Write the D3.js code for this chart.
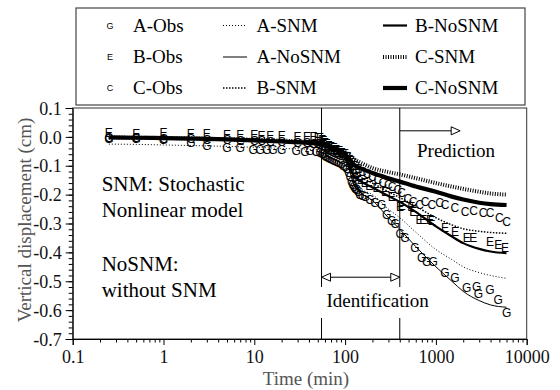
<!DOCTYPE html>
<html><head><meta charset="utf-8">
<script src="https://cdn.jsdelivr.net/npm/d3@7"></script>
<style>
body{margin:0;background:#fff}svg{display:block}
text{font-family:"Liberation Serif","Times New Roman",Times,serif}
text.mk{font-family:"Liberation Sans",Arial,sans-serif}
</style>
</head><body>
<svg id="chart" width="560" height="390"></svg>
<script>
// ---------- data ----------
const xTicks = [0.1, 1, 10, 100, 1000, 10000];
const xTickLabels = ["0.1", "1", "10", "100", "1000", "10000"];
const yTicks = [0.1, 0.0, -0.1, -0.2, -0.3, -0.4, -0.5, -0.6, -0.7];
const yTickLabels = ["0.1", "0.0", "-0.1", "-0.2", "-0.3", "-0.4", "-0.5", "-0.6", "-0.7"];

const modelTimes = [0.25, 0.5, 1, 2, 5, 10, 20, 40, 55, 70, 90, 100, 110, 120, 130, 150, 200, 300, 400, 600, 1000, 1500, 2000, 3000, 4000, 6000];
const aSNM   = [-0.025,-0.026,-0.028,-0.030,-0.033,-0.036,-0.040,-0.043,-0.046,-0.055,-0.070,-0.080,-0.105,-0.140,-0.160,-0.180,-0.200,-0.250,-0.280,-0.330,-0.390,-0.425,-0.450,-0.470,-0.480,-0.490];
const aNoSNM = [-0.004,-0.005,-0.006,-0.008,-0.012,-0.015,-0.019,-0.024,-0.028,-0.045,-0.065,-0.080,-0.110,-0.150,-0.175,-0.195,-0.220,-0.280,-0.320,-0.380,-0.450,-0.500,-0.535,-0.567,-0.582,-0.590];
const bSNM   = [-0.003,-0.004,-0.005,-0.007,-0.010,-0.013,-0.017,-0.021,-0.025,-0.040,-0.055,-0.065,-0.085,-0.110,-0.125,-0.140,-0.160,-0.190,-0.210,-0.240,-0.280,-0.305,-0.318,-0.327,-0.331,-0.334];
const bNoSNM = [-0.002,-0.003,-0.004,-0.006,-0.009,-0.012,-0.016,-0.021,-0.025,-0.040,-0.058,-0.070,-0.095,-0.125,-0.140,-0.155,-0.175,-0.205,-0.225,-0.260,-0.310,-0.345,-0.368,-0.388,-0.397,-0.403];
const cSNM   = [-0.002,-0.003,-0.004,-0.005,-0.008,-0.010,-0.013,-0.018,-0.024,-0.032,-0.045,-0.052,-0.062,-0.072,-0.080,-0.090,-0.108,-0.122,-0.130,-0.143,-0.160,-0.172,-0.180,-0.190,-0.196,-0.200];
const cNoSNM = [-0.002,-0.003,-0.004,-0.006,-0.009,-0.012,-0.016,-0.021,-0.025,-0.035,-0.050,-0.060,-0.075,-0.090,-0.100,-0.110,-0.125,-0.143,-0.155,-0.172,-0.190,-0.207,-0.217,-0.228,-0.233,-0.236];

const obsATimes = [0.25,0.5,1,2,3,5,7,9.7,11.6,13.8,16,20,29,36,41,48,53,56,58,60,62,65,68,72,76,80,85,90,95,100,105,110,114,118,122,126,130,134,140,146,155,166,188,213,253,287,326,355,403,457,589,698,792,936,1259,1622,2183,2813,2931,3945,4864,6026];
const obsAValues = [-0.006,-0.008,-0.010,-0.020,-0.030,-0.040,-0.040,-0.045,-0.047,-0.045,-0.045,-0.047,-0.050,-0.052,-0.050,-0.052,-0.055,-0.058,-0.060,-0.065,-0.070,-0.072,-0.078,-0.080,-0.085,-0.088,-0.090,-0.095,-0.100,-0.105,-0.110,-0.125,-0.140,-0.155,-0.165,-0.172,-0.180,-0.185,-0.190,-0.200,-0.205,-0.207,-0.218,-0.228,-0.236,-0.272,-0.290,-0.300,-0.337,-0.351,-0.386,-0.418,-0.432,-0.432,-0.470,-0.490,-0.525,-0.520,-0.545,-0.530,-0.565,-0.610];
const obsBTimes = [0.25,0.5,1,2,3,5,7,10,12,15,20,30,38,45,50,53,56,58,60,63,66,70,75,80,86,92,100,106,112,118,124,130,140,150,165,185,222,275,326,403,420,535,564,660,727,860,899,1259,1622,2183,2582,3945,4864,5770];
const obsBValues = [0.012,0.010,0.012,0.010,0.010,0.008,0.006,0.005,0.004,0.003,0.002,0.000,0.000,-0.002,-0.003,-0.005,-0.010,-0.015,-0.020,-0.025,-0.030,-0.035,-0.040,-0.045,-0.050,-0.055,-0.060,-0.070,-0.085,-0.100,-0.115,-0.130,-0.140,-0.150,-0.160,-0.170,-0.178,-0.190,-0.207,-0.242,-0.240,-0.242,-0.259,-0.288,-0.288,-0.288,-0.290,-0.317,-0.328,-0.351,-0.351,-0.363,-0.374,-0.386];
const obsCTimes = [0.25,0.5,1,2,3,5,7,10,12,15,20,30,38,45,50,53,56,60,65,70,76,82,90,98,106,114,122,130,140,155,175,200,230,260,300,330,380,420,490,560,660,760,900,1100,1260,1620,2100,2600,3300,3950,5000,6000];
const obsCValues = [-0.004,-0.005,-0.006,-0.008,-0.010,-0.012,-0.014,-0.015,-0.016,-0.017,-0.018,-0.020,-0.022,-0.023,-0.025,-0.027,-0.030,-0.035,-0.040,-0.045,-0.050,-0.055,-0.060,-0.065,-0.070,-0.080,-0.090,-0.100,-0.110,-0.120,-0.130,-0.140,-0.150,-0.160,-0.165,-0.173,-0.185,-0.195,-0.215,-0.225,-0.236,-0.225,-0.236,-0.230,-0.236,-0.247,-0.259,-0.255,-0.262,-0.265,-0.282,-0.294];

const identStart = 55, identEnd = 400, predEnd = 1850;

// ---------- drawing ----------
const svg = d3.select("#chart");
svg.append("rect").attr("width",560).attr("height",390).attr("fill","#fff");

const x = d3.scaleLog().domain([0.1, 10000]).range([72.7, 526.7]);
const y = d3.scaleLinear().domain([-0.7, 0.1]).range([339, 108]);

svg.append("defs").append("clipPath").attr("id","clip")
  .append("rect").attr("x",72.7).attr("y",108).attr("width",454).attr("height",231);

svg.append("rect").attr("x",72.7).attr("y",108).attr("width",454).attr("height",231)
  .attr("fill","none").attr("stroke","#333").attr("stroke-width",1);

[identStart, identEnd].forEach(t => {
  svg.append("line").attr("x1",x(t)).attr("x2",x(t)).attr("y1",y(0.1)).attr("y2",y(-0.7))
    .attr("stroke","#000").attr("stroke-width",1);
});

const series = [
  {name:"A-SNM", v:aSNM, w:1, dash:"1,2"},
  {name:"A-NoSNM", v:aNoSNM, w:1, dash:null},
  {name:"B-SNM", v:bSNM, w:1.5, dash:"1.5,1.5"},
  {name:"B-NoSNM", v:bNoSNM, w:2.2, dash:null},
  {name:"C-SNM", v:cSNM, w:4, dash:"1,1.5"},
  {name:"C-NoSNM", v:cNoSNM, w:4.2, dash:null}
];
const line = d3.line().x(d => x(d[0])).y(d => y(d[1])).curve(d3.curveMonotoneX);
const gLines = svg.append("g").attr("clip-path","url(#clip)");
series.forEach(s => {
  gLines.append("path").datum(modelTimes.map((t,i) => [t, s.v[i]]))
    .attr("d", line).attr("fill","none").attr("stroke","#000")
    .attr("stroke-width", s.w).attr("stroke-dasharray", s.dash);
});

const obs = [
  {glyph:"G", t:obsATimes, v:obsAValues},
  {glyph:"E", t:obsBTimes, v:obsBValues},
  {glyph:"C", t:obsCTimes, v:obsCValues}
];
const gObs = svg.append("g").attr("clip-path","url(#clip)");
obs.forEach(o => {
  gObs.selectAll(null).data(o.t.map((t,i) => [t, o.v[i]])).enter().append("text")
    .attr("class","mk")
    .attr("x", d => x(d[0])).attr("y", d => y(d[1]))
    .attr("text-anchor","middle").attr("dominant-baseline","central")
    .attr("font-size", 12).attr("fill","#000")
    .text(o.glyph);
});

const yAxis = d3.axisLeft(y).tickValues(yTicks).tickSize(7).tickPadding(4)
  .tickFormat((d,i) => yTickLabels[i]);
const gy = svg.append("g").attr("transform","translate(72.7,0)").call(yAxis);
const yMinor = d3.range(-0.7, 0.1001, 0.02);
svg.append("g").attr("transform","translate(72.7,0)")
  .call(d3.axisLeft(y).tickValues(yMinor).tickSize(4).tickFormat(""))
  .call(g => g.select(".domain").remove());

const xAxis = d3.axisBottom(x).tickValues(xTicks).tickSize(6).tickPadding(5)
  .tickFormat((d,i) => xTickLabels[i]);
const gx = svg.append("g").attr("transform","translate(0,339)").call(xAxis);
const xMinor = [];
for (let e = -1; e < 4; e++) for (let m = 2; m <= 9; m++) xMinor.push(m * Math.pow(10, e));
svg.append("g").attr("transform","translate(0,339)")
  .call(d3.axisBottom(x).tickValues(xMinor).tickSize(3.5).tickFormat(""))
  .call(g => g.select(".domain").remove());

svg.selectAll(".domain").attr("stroke","#000");
svg.selectAll(".tick line").attr("stroke","#000");
[gx, gy].forEach(g => g.selectAll("text").attr("font-size", 18).attr("fill","#111"));
gx.selectAll("text").attr("dy","0.71em");
gy.selectAll("text").attr("dy","0.34em");
svg.selectAll("g").attr("font-family", null);

svg.append("text").attr("x",306).attr("y",385).attr("text-anchor","middle")
  .attr("font-size",19).attr("fill","#555").text("Time (min)");
svg.append("text").attr("transform","translate(31,220) rotate(-90)").attr("text-anchor","middle")
  .attr("font-size",19).attr("fill","#555").text("Vertical  displacement (cm)");

function txt(s, tx, ty, size) {
  svg.append("text").attr("x",tx).attr("y",ty)
    .attr("font-size",size).attr("fill","#000").text(s);
}
txt("SNM: Stochastic", 101.7, 190.5, 21);
txt("Nonlinear model", 101.7, 217, 21);
txt("NoSNM:", 101.7, 270.5, 21);
txt("without SNM", 101.7, 297, 21);

function head(px, py, dir) {
  const L = 9, H = 4;
  svg.append("path").attr("d", `M${px},${py} L${px - dir*L},${py - H} L${px - dir*L},${py + H} Z`)
    .attr("fill","#fff").attr("stroke","#000").attr("stroke-width",1);
}
const py = y(0.021);
svg.append("line").attr("x1",x(identEnd)).attr("x2",x(predEnd)-9).attr("y1",py).attr("y2",py)
  .attr("stroke","#000").attr("stroke-width",1);
head(x(predEnd), py, 1);
txt("Prediction", 417, 156.5, 19);

svg.append("rect").attr("x",318).attr("y",287).attr("width",114).attr("height",31).attr("fill","#fff");
const iy = y(-0.486);
svg.append("line").attr("x1",x(identStart)+9).attr("x2",x(identEnd)-9).attr("y1",iy).attr("y2",iy)
  .attr("stroke","#000").attr("stroke-width",1);
head(x(identStart), iy, -1);
head(x(identEnd), iy, 1);
txt("Identification", 326.5, 306.5, 19);

svg.append("rect").attr("x",76).attr("y",8).attr("width",449).attr("height",97)
  .attr("fill","#fff").attr("stroke","#444").attr("stroke-width",1.2);
const rowsY = [31.5, 63, 94];
const obsNames = ["A-Obs","B-Obs","C-Obs"];
obs.forEach((o,i) => {
  svg.append("text").attr("class","mk").attr("x",110).attr("y",rowsY[i]-6).attr("text-anchor","middle")
    .attr("dominant-baseline","central").attr("font-size",9).text(o.glyph);
  txt(obsNames[i], 133, rowsY[i], 19);
});
series.forEach((s,i) => {
  const col = i < 3 ? 0 : 1;
  const row = i % 3;
  const lx = col === 0 ? 223 : 383;
  const tx = col === 0 ? 256.5 : 415;
  const ly = rowsY[row] - 6;
  svg.append("line").attr("x1",lx).attr("x2",lx+24).attr("y1",ly).attr("y2",ly)
    .attr("stroke","#000").attr("stroke-width",s.w).attr("stroke-dasharray",s.dash);
  txt(s.name, tx, rowsY[row], 19);
});
</script>
</body></html>
